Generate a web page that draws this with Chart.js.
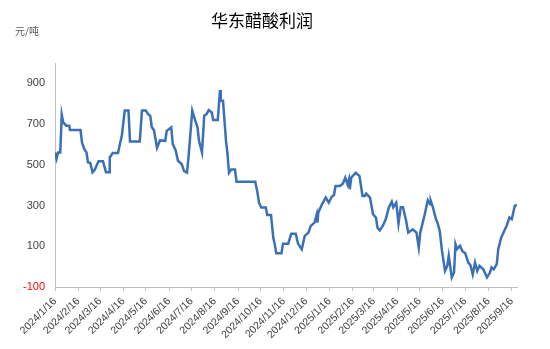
<!DOCTYPE html>
<html>
<head>
<meta charset="utf-8">
<script src="https://cdn.jsdelivr.net/npm/chart.js@4.4.1/dist/chart.umd.min.js"></script>
<style>
  body { margin: 0; background: #fff; }
  #wrap { width: 550px; height: 349px; }
</style>
</head>
<body>
<div id="wrap"><canvas id="myChart" width="550" height="349"></canvas></div>
<script>
// 标题和单位
const titleText = '华东醋酸利润';
const unitText = '元/吨';

// 横轴刻度（每月16日）
const tickLabels = ['2024/1/16', '2024/2/16', '2024/3/16', '2024/4/16', '2024/5/16', '2024/6/16', '2024/7/16',
    '2024/8/16', '2024/9/16', '2024/10/16', '2024/11/16', '2024/12/16', '2025/1/16', '2025/2/16', '2025/3/16',
    '2025/4/16', '2025/5/16', '2025/6/16', '2025/7/16', '2025/8/16', '2025/9/16'];

// 纵轴刻度
const yTicks = [-100, 100, 300, 500, 700, 900];

// 日期
const dates = ['2024/1/16', '2024/1/18', '2024/1/20', '2024/1/23', '2024/1/25', '2024/1/27', '2024/1/31', '2024/2/4',
    '2024/2/5', '2024/2/19', '2024/2/21', '2024/2/24', '2024/2/27', '2024/2/29', '2024/3/3', '2024/3/6', '2024/3/9',
    '2024/3/14', '2024/3/20', '2024/3/24', '2024/3/28', '2024/3/29', '2024/4/2', '2024/4/9', '2024/4/12', '2024/4/14',
    '2024/4/18', '2024/4/23', '2024/4/25', '2024/5/8', '2024/5/11', '2024/5/16', '2024/5/19', '2024/5/22', '2024/5/24',
    '2024/5/27', '2024/5/31', '2024/6/4', '2024/6/11', '2024/6/13', '2024/6/19', '2024/6/21', '2024/6/25', '2024/6/28',
    '2024/7/3', '2024/7/6', '2024/7/10', '2024/7/12', '2024/7/17', '2024/7/21', '2024/7/24', '2024/7/26', '2024/7/30',
    '2024/8/2', '2024/8/5', '2024/8/8', '2024/8/12', '2024/8/14', '2024/8/20', '2024/8/22', '2024/8/23', '2024/8/24',
    '2024/8/27', '2024/8/31', '2024/9/2', '2024/9/4', '2024/9/7', '2024/9/12', '2024/9/14', '2024/10/9', '2024/10/12',
    '2024/10/14', '2024/10/17', '2024/10/23', '2024/10/25', '2024/10/30', '2024/11/2', '2024/11/4', '2024/11/6',
    '2024/11/13', '2024/11/15', '2024/11/22', '2024/11/26', '2024/12/2', '2024/12/5', '2024/12/10', '2024/12/14',
    '2024/12/19', '2024/12/22', '2024/12/27', '2024/12/30', '2024/12/31', '2025/1/1', '2025/1/6', '2025/1/11',
    '2025/1/15', '2025/1/19', '2025/1/22', '2025/1/24', '2025/1/30', '2025/2/3', '2025/2/6', '2025/2/9', '2025/2/11',
    '2025/2/12', '2025/2/14', '2025/2/20', '2025/2/25', '2025/3/1', '2025/3/4', '2025/3/6', '2025/3/11', '2025/3/15',
    '2025/3/19', '2025/3/21', '2025/3/24', '2025/3/28', '2025/4/1', '2025/4/5', '2025/4/9', '2025/4/11', '2025/4/15',
    '2025/4/18', '2025/4/21', '2025/4/24', '2025/4/28', '2025/5/1', '2025/5/4', '2025/5/7', '2025/5/12', '2025/5/15',
    '2025/5/17', '2025/5/23', '2025/5/27', '2025/5/30', '2025/5/31', '2025/6/3', '2025/6/7', '2025/6/9', '2025/6/12',
    '2025/6/15', '2025/6/16', '2025/6/19', '2025/6/22', '2025/6/24', '2025/6/28', '2025/7/1', '2025/7/3', '2025/7/5',
    '2025/7/9', '2025/7/12', '2025/7/16', '2025/7/20', '2025/7/23', '2025/7/26', '2025/7/29', '2025/8/1', '2025/8/4',
    '2025/8/9', '2025/8/14', '2025/8/18', '2025/8/20', '2025/8/23', '2025/8/27', '2025/8/29', '2025/9/2', '2025/9/9',
    '2025/9/13', '2025/9/16', '2025/9/20', '2025/9/23'];

// 利润（元/吨）
const profit = [560, 530, 560, 560, 746, 708, 692, 692,
    671, 671, 610, 577, 561, 512, 510, 463, 476,
    517, 517, 463, 463, 536, 558, 558, 610, 640,
    767, 767, 615, 615, 767, 767, 750, 740, 686,
    670, 583, 620, 618, 667, 684, 602, 569, 520,
    503, 470, 461, 536, 766, 717, 684, 618, 561,
    741, 749, 769, 757, 720, 720, 815, 867, 815,
    815, 618, 553, 461, 477, 477, 417, 417, 363,
    314, 290, 290, 254, 254, 143, 110, 66,
    66, 113, 113, 162, 162, 113, 85, 151,
    167, 200, 216, 257, 216, 265, 306, 339,
    314, 343, 352, 396, 396, 408, 437, 404, 429,
    380, 437, 461, 445, 347, 347, 359, 339, 257,
    240, 191, 178, 200, 232, 290, 319, 292, 314,
    212, 292, 292, 228, 167, 175, 183, 167, 94,
    167, 257, 326, 306, 323, 290, 232, 216, 175,
    77, 77, -21, 4, 53, -53, -29, 110, 86,
    102, 77, 66, 20, 7, -38, 20, -21, 4,
    -13, -53, -29, -4, -13, 12, 86, 143, 200,
    241, 233, 298, 303];

// 日期 -> 距 2024/1/16 的天数
function dayOffset(s) {
    const [y, m, d] = s.split('/').map(Number);
    return Math.round((Date.UTC(y, m - 1, d) - Date.UTC(2024, 0, 16)) / 86400000);
}

const points = dates.map((d, i) => ({ x: dayOffset(d), y: profit[i] }));
const labelByDay = {};
tickLabels.forEach(s => { labelByDay[dayOffset(s)] = s; });

const axisColor = '#bfbfbf';
const textColor = '#404040';

// 标题和单位
const titlePlugin = {
    id: 'titleText',
    beforeDraw(chart) {
        const ctx = chart.ctx;
        ctx.save();
        ctx.fillStyle = '#fff';
        ctx.fillRect(0, 0, chart.width, chart.height);
        ctx.fillStyle = '#000';
        ctx.font = '17px "Noto Sans CJK SC"';
        ctx.textAlign = 'center';
        ctx.textBaseline = 'middle';
        ctx.fillText(titleText, 262, 21);
        ctx.fillStyle = '#595959';
        ctx.font = '10px "Noto Sans CJK SC"';
        ctx.textAlign = 'left';
        ctx.fillText(unitText, 15, 31);
        ctx.restore();
    }
};

const ctx = document.getElementById('myChart').getContext('2d');
new Chart(ctx, {
    type: 'line',
    data: {
        datasets: [{
            label: titleText,
            data: points,
            borderColor: '#3a70b6',
            borderWidth: 2.5,
            pointRadius: 0,
            tension: 0,
            fill: false
        }]
    },
    options: {
        responsive: false,
        animation: false,
        layout: { padding: { left: 0, right: 33, top: 63, bottom: 0 } },
        plugins: {
            legend: { display: false },
            tooltip: { enabled: false }
        },
        scales: {
            x: {
                type: 'linear',
                min: 0,
                max: dayOffset(dates[dates.length - 1]),
                afterBuildTicks(axis) {
                    axis.ticks = tickLabels.map(s => ({ value: dayOffset(s) }));
                },
                afterFit(scale) { scale.height = 62; },
                grid: { drawOnChartArea: false, drawTicks: true, tickLength: 4, color: axisColor },
                border: { color: axisColor, width: 1 },
                ticks: {
                    autoSkip: false,
                    minRotation: 45,
                    maxRotation: 45,
                    padding: 4,
                    color: textColor,
                    font: { size: 10.5, family: '"Liberation Sans", "Noto Sans CJK SC"' },
                    callback: v => labelByDay[v] || ''
                }
            },
            y: {
                type: 'linear',
                min: -100,
                max: 1000,
                afterBuildTicks(axis) {
                    axis.ticks = yTicks.map(v => ({ value: v }));
                },
                afterFit(scale) { scale.width = 55; },
                grid: { display: false, drawTicks: false },
                border: { display: true, color: axisColor, width: 1 },
                ticks: {
                    padding: 10,
                    color: c => (c.tick && c.tick.value < 0 ? '#ff0000' : textColor),
                    font: { size: 11, family: '"Liberation Sans", "Noto Sans CJK SC"' }
                }
            }
        }
    },
    plugins: [titlePlugin]
});
</script>
</body>
</html>
